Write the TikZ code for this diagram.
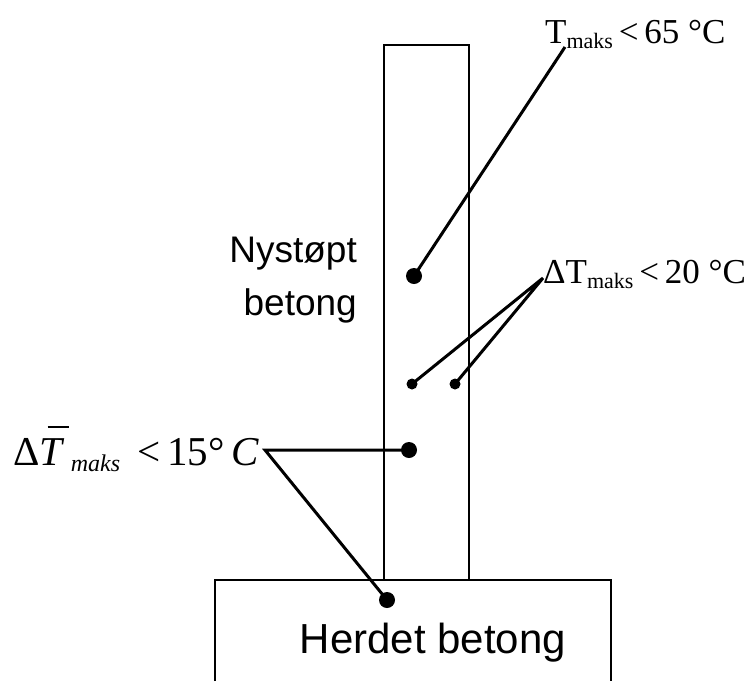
\documentclass[tikz,border=0pt]{standalone}
\usepackage{fontspec}
\setmainfont{Liberation Serif}
\newfontfamily\arialfont{Liberation Sans}
\begin{document}
\begin{tikzpicture}[x=1pt,y=-1pt,
  wall/.style={line width=2.2pt},
  leader/.style={line width=3pt},
  bigdot/.style={circle,fill=black,inner sep=0pt,minimum size=16pt},
  smalldot/.style={circle,fill=black,inner sep=0pt,minimum size=11pt},
  lbl/.style={inner sep=0pt,font=\fontsize{35}{35}\selectfont},
  sanslbl/.style={inner sep=0pt,font=\arialfont\fontsize{37}{37}\selectfont}]
\useasboundingbox (0,0) rectangle (752,681);
% column and base
\draw[wall] (384,580) -- (384,45) -- (469,45) -- (469,580);
\draw[wall] (215,681) -- (215,580) -- (611,580) -- (611,681);
% texts
\node[sanslbl,anchor=base east] (nys1) at (357,262) {Nystøpt};
\node[sanslbl,anchor=base east] (nys2) at (357,315) {betong};
\node[inner sep=0pt,font=\arialfont\fontsize{42}{42}\selectfont,anchor=base] (herd) at (433,653) {Herdet betong};
\node[lbl,anchor=base west] (tmaks) at (545,43) {T\raisebox{-5pt}{\fontsize{22}{22}\selectfont maks}\,<\,65 °C};
\node[lbl,anchor=base west] (dtmaks) at (543,283) {ΔT\raisebox{-5pt}{\fontsize{22}{22}\selectfont maks}\,<\,20 °C};
\node[inner sep=0pt,anchor=base west,font=\fontsize{41}{41}\selectfont] (dtbar) at (13,465)
  {Δ\rlap{\hspace{8pt}\rule[37pt]{21pt}{2.2pt}}\textit{T}\raisebox{-6pt}{\fontsize{24}{24}\selectfont\itshape\ maks}\ \,<\,15°\,\textit{C}};
% dots
\node[bigdot] (d1) at (414,276) {};
\node[smalldot] (d2) at (412,384) {};
\node[smalldot] (d3) at (455,384) {};
\node[bigdot] (d4) at (409,450) {};
\node[bigdot] (d5) at (387,600) {};
% leader end points
\coordinate (p1) at (565,47);
\coordinate (p2) at (543,278);
\coordinate (p3) at (265,450);
% leaders
\draw[leader] (d1.center) -- (p1);
\draw[leader] (d2.center) -- (p2) -- (d3.center);
\draw[leader] (d4.center) -- (p3) -- (d5.center);
\end{tikzpicture}
\end{document}
